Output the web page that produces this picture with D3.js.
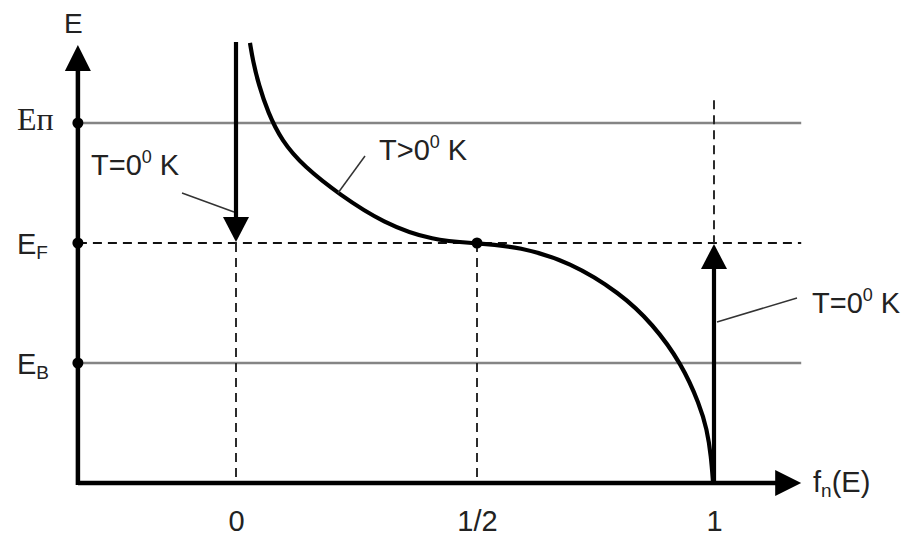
<!DOCTYPE html>
<html><head><meta charset="utf-8">
<script src="https://cdn.jsdelivr.net/npm/d3@7"></script>
<style>
html,body{margin:0;padding:0;background:#fff;}
svg{display:block;}
text{font-family:"Liberation Sans",Arial,sans-serif;fill:#222;}
</style></head>
<body>
<svg id="chart" width="923" height="536"></svg>
<script>
// ---- data ----
const xTickValues = [0, 0.5, 1];
const xTickLabels = ["0", "1/2", "1"];
const levelNames = ["Eп", "EF", "EB"];
const levelValues = [3, 2, 1];           // Eп, EF, EB (energy units)
const levelMain = ["E", "E", "E"];
const levelSub = ["п", "F", "B"];
const curveF = [0.029,0.035,0.047,0.066,0.095,0.140,0.216,0.305,0.409,0.5,0.591,0.696,0.802,0.871,0.932,0.970,0.985,0.994,0.998];
const curveE = [3.667,3.520,3.320,3.090,2.850,2.640,2.400,2.167,2.017,2.0,1.967,1.842,1.583,1.325,0.992,0.650,0.450,0.220,0];
const fMin = -0.328, fMax = 1.184;      // axis extents
const eMin = 0, eMax = 3.65;

// ---- scales ----
const x = d3.scaleLinear().domain([0, 0.5, 1]).range([236, 477, 714]);
const y = d3.scaleLinear().domain([0, 3]).range([483, 123]);

const svg = d3.select("#chart");

const X0 = x(fMin), X1 = x(fMax), Y0 = y(eMin), Y1 = y(eMax);
const dash = "9,6";

// level lines
svg.selectAll("line.level").data(levelValues).join("line")
  .attr("x1", X0).attr("x2", X1)
  .attr("y1", d => y(d)).attr("y2", d => y(d))
  .attr("stroke", (d, i) => i === 1 ? "#111" : "#858585")
  .attr("stroke-width", (d, i) => i === 1 ? 1.9 : 2.5)
  .attr("stroke-dasharray", (d, i) => i === 1 ? dash : null);

// vertical dashed guides
const guides = [[0, eMin, 2], [0.5, eMin, 2], [1, 2, 3.19]];
svg.selectAll("line.guide").data(guides).join("line")
  .attr("x1", d => x(d[0])).attr("x2", d => x(d[0]))
  .attr("y1", d => y(d[2])).attr("y2", d => y(d[1]))
  .attr("stroke", "#222").attr("stroke-width", 1.9).attr("stroke-dasharray", dash);

// axes (lines + arrowheads)
const ah = 26, aw = 13;
svg.append("line").attr("x1", X0).attr("x2", X1 - ah + 2).attr("y1", Y0).attr("y2", Y0)
  .attr("stroke", "#000").attr("stroke-width", 4.5);
svg.append("path").attr("d", `M${X1},${Y0} L${X1-ah},${Y0-aw} L${X1-ah},${Y0+aw} Z`).attr("fill", "#000");
svg.append("line").attr("x1", X0).attr("x2", X0).attr("y1", Y0 + 2).attr("y2", Y1 + ah - 2)
  .attr("stroke", "#000").attr("stroke-width", 4.5);
svg.append("path").attr("d", `M${X0},${Y1} L${X0-aw},${Y1+ah} L${X0+aw},${Y1+ah} Z`).attr("fill", "#000");

// x tick labels via d3 axis
const xAxis = d3.axisBottom(x).tickValues(xTickValues).tickSize(0).tickPadding(0)
  .tickFormat((d, i) => xTickLabels[i]);
const gx = svg.append("g").attr("transform", `translate(0,${Y0})`).call(xAxis);
gx.select(".domain").remove();
gx.selectAll("text").attr("font-size", 29).attr("dy", 0).attr("y", 48)
  .attr("fill", "#222").style("font-family", "'Liberation Sans',Arial,sans-serif");

// T=0 K arrows (step function at 0 K)
svg.append("line").attr("x1", x(0)).attr("x2", x(0)).attr("y1", y(eMax) - 3).attr("y2", y(2) - 24)
  .attr("stroke", "#000").attr("stroke-width", 4.2);
svg.append("path").attr("d", `M${x(0)},${y(2)-1} L${x(0)-aw},${y(2)-26} L${x(0)+aw},${y(2)-26} Z`).attr("fill", "#000");
svg.append("line").attr("x1", x(1)).attr("x2", x(1)).attr("y1", Y0).attr("y2", y(2) + 24)
  .attr("stroke", "#000").attr("stroke-width", 4.2);
svg.append("path").attr("d", `M${x(1)},${y(2)+1} L${x(1)-aw},${y(2)+26} L${x(1)+aw},${y(2)+26} Z`).attr("fill", "#000");

// T>0 curve
const pts = curveF.map((f, i) => [x(f), y(curveE[i])]);
svg.append("path").attr("d", d3.line().curve(d3.curveBasis)(pts))
  .attr("fill", "none").attr("stroke", "#000").attr("stroke-width", 4.2);

// dots
svg.selectAll("circle.lvl").data(levelValues).join("circle")
  .attr("cx", X0).attr("cy", d => y(d)).attr("r", 5.5).attr("fill", "#000");
svg.append("circle").attr("cx", x(0.5)).attr("cy", y(2)).attr("r", 5.5).attr("fill", "#000");

// y level labels
const lbl = svg.selectAll("text.lvl").data(levelValues).join("text")
  .attr("class", "lvl").attr("x", 17).attr("y", d => y(d) + 11);
lbl.each(function(d, i) {
  const t = d3.select(this);
  if (i === 0) {
    t.style("font-family", "'Liberation Serif','Times New Roman',serif").attr("y", y(d) + 7)
      .attr("font-size", 32).attr("fill", "#111");
    t.append("tspan").text(levelMain[i]);
    t.append("tspan").text(levelSub[i]);
  } else {
    t.attr("font-size", 29);
    t.append("tspan").text(levelMain[i]);
    t.append("tspan").attr("font-size", 19).attr("dy", 5).text(levelSub[i]);
  }
});

// axis titles
svg.append("text").attr("x", 64).attr("y", 33).attr("font-size", 28).text("E");
const ft = svg.append("text").attr("x", 813).attr("y", 492).attr("font-size", 29);
ft.append("tspan").text("f");
ft.append("tspan").attr("font-size", 19).attr("dy", 5).text("n");
ft.append("tspan").attr("dy", -5).text("(E)");

// annotations
function tempLabel(px, py, rel) {
  const t = svg.append("text").attr("x", px).attr("y", py).attr("font-size", 29);
  t.append("tspan").text("T" + rel + "0");
  t.append("tspan").attr("font-size", 18).attr("dy", -12).text("0");
  t.append("tspan").attr("dy", 12).text(" K");
}
tempLabel(91, 175, "=");
tempLabel(379, 160, ">");
tempLabel(812, 313, "=");

const leader = [[182, 193, x(0) - 2, 212], [365, 156, 338, 193], [797, 298, x(1) + 3, 322]];
svg.selectAll("line.leader").data(leader).join("line")
  .attr("x1", d => d[0]).attr("y1", d => d[1]).attr("x2", d => d[2]).attr("y2", d => d[3])
  .attr("stroke", "#333").attr("stroke-width", 1.5);
</script>
</body></html>
